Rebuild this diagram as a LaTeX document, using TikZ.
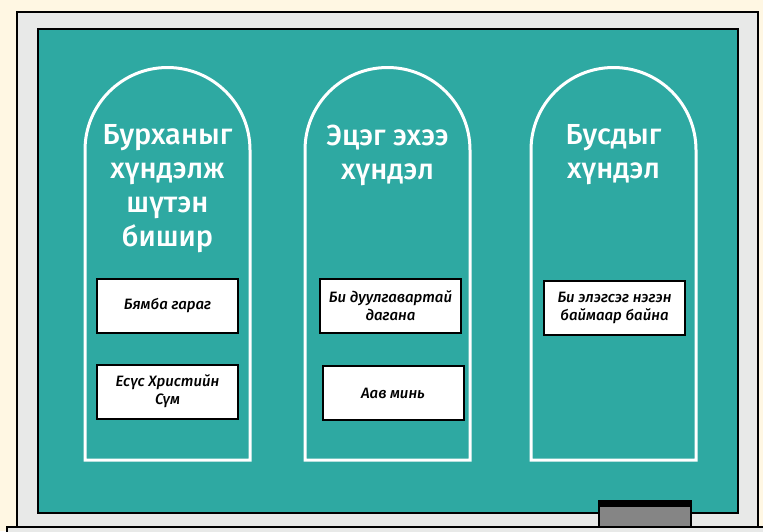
\documentclass[tikz,border=0pt]{standalone}
\usepackage{fontspec}
\setmainfont{Fira Sans}
\newfontfamily\mediumfont{Fira Sans Medium}
\usepackage{tikz}
\usetikzlibrary{positioning,calc}
\definecolor{creambg}{RGB}{255,247,227}
\definecolor{framegray}{RGB}{232,233,232}
\definecolor{boardteal}{RGB}{46,169,162}
\definecolor{erasergray}{RGB}{133,133,133}

\begin{document}
\begin{tikzpicture}[x=1pt, y=-1pt,
    archline/.style={draw=white, line width=3pt},
    archtitle/.style={text=white, align=center, anchor=north, font=\mediumfont\fontsize{29}{34}\selectfont},
    notebox/.style={rectangle, draw=black, line width=2pt, fill=white, minimum width=141pt, minimum height=54pt, align=center, font=\mediumfont\fontsize{15}{18}\selectfont\itshape}]
    \useasboundingbox (0,0) rectangle (763,531);
    % Background and board frame
    \fill[creambg] (0,0) rectangle (763,531);
    \draw[fill=framegray, line width=2pt] (17,12) rectangle (758,527);
    \draw[fill=boardteal, line width=1.5pt] (38,29) rectangle (738,513);
    % Chalk tray and eraser
    \draw[fill=framegray, line width=2pt] (7,527) rectangle (775,540);
    \draw[fill=erasergray, line width=1.5pt] (599,501) rectangle (691,527);
    \fill[black] (599,501) rectangle (691,507);

    % Arches
    \draw[archline] (85,460) -- (85,150) arc (180:360:82.5) -- (250,460) -- cycle;
    \draw[archline] (305,460) -- (305,150) arc (180:360:82.5) -- (470,460) -- cycle;
    \draw[archline] (531,460) -- (531,150) arc (180:360:82.5) -- (696,460) -- cycle;

    % Titles
    \node[archtitle] (godtitle) at (167.5,121) {Бурханыг\\хүндэлж\\шүтэн\\бишир};
    \node[archtitle] (parenttitle) at (387.5,121) {Эцэг эхээ\\хүндэл};
    \node[archtitle] (otherstitle) at (613.5,121) {Бусдыг\\хүндэл};

    % Notes
    \node[notebox] (sabbath) at (167.5,306) {Бямба гараг};
    \node[notebox] (church) at (167.5,391.5) {Есүс Христийн\\Сүм};
    \node[notebox] (follow) at (390.5,305.5) {Би дуулгавартай\\дагана};
    \node[notebox] (father) at (393,393) {Аав минь};
    \node[notebox] (kind) at (614.5,307.5) {Би элэгсэг нэгэн\\баймаар байна};
\end{tikzpicture}
\end{document}
